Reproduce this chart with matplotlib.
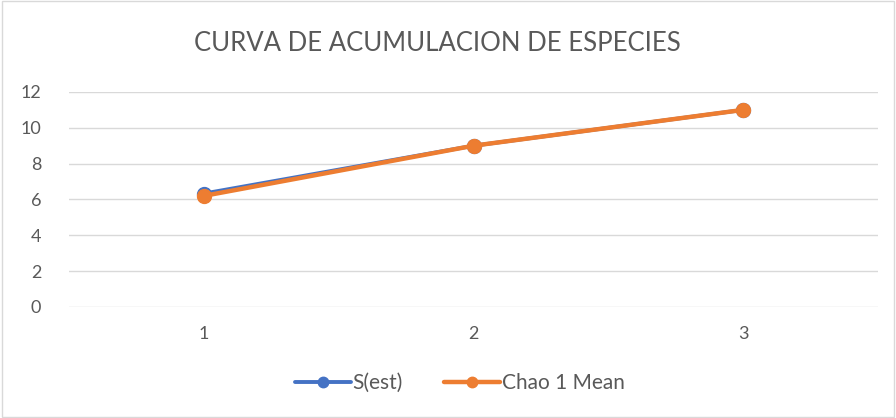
import matplotlib
matplotlib.use("Agg")
import matplotlib.pyplot as plt
from matplotlib.patches import Rectangle

plt.rcParams['font.family'] = ['Lato', 'DejaVu Sans']

categories = ["1", "2", "3"]
s_est = [6.33, 9.0, 11.0]
chao1_mean = [6.2, 9.0, 11.0]
yticks = [0, 2, 4, 6, 8, 10, 12]

fig = plt.figure(figsize=(8.96, 4.18), dpi=100)
ax = fig.add_axes([0.077, 0.2656, 0.903, 0.5144])

x = list(range(1, len(categories) + 1))
ax.plot(x, s_est, color="#4472C4", lw=2.8, marker="o", ms=10, label="S(est)",
        solid_capstyle="round", zorder=3)
ax.plot(x, chao1_mean, color="#ED7D31", lw=3.2, marker="o", ms=10, label="Chao 1 Mean",
        solid_capstyle="round", zorder=4)

ax.set_xlim(0.5, len(categories) + 0.5)
ax.set_ylim(0, 12)
ax.set_xticks(x)
ax.set_xticklabels(categories)
ax.set_yticks(yticks)
ax.grid(axis="y", color="#D9D9D9", lw=1)
ax.set_axisbelow(True)
for s in ax.spines.values():
    s.set_visible(False)
ax.tick_params(axis="both", length=0, labelsize=13, colors="#595959", pad=14)
ax.tick_params(axis="y", pad=20)

fig.text(0.488, 0.895, "CURVA DE ACUMULACION DE ESPECIES", ha="center", va="center",
         fontsize=18.5, color="#595959")

leg = fig.legend(loc="center", bbox_to_anchor=(0.513, 0.083), ncol=2, frameon=False,
                 prop={"size": 15}, labelcolor="#595959",
                 handlelength=2.7, handletextpad=0.05, columnspacing=2.0, markerscale=0.75)

fig.add_artist(Rectangle((0.002, 0.003), 0.996, 0.994, transform=fig.transFigure,
                         fill=False, edgecolor="#D9D9D9", lw=1))

fig.savefig("out.png", dpi=100, facecolor="white")
